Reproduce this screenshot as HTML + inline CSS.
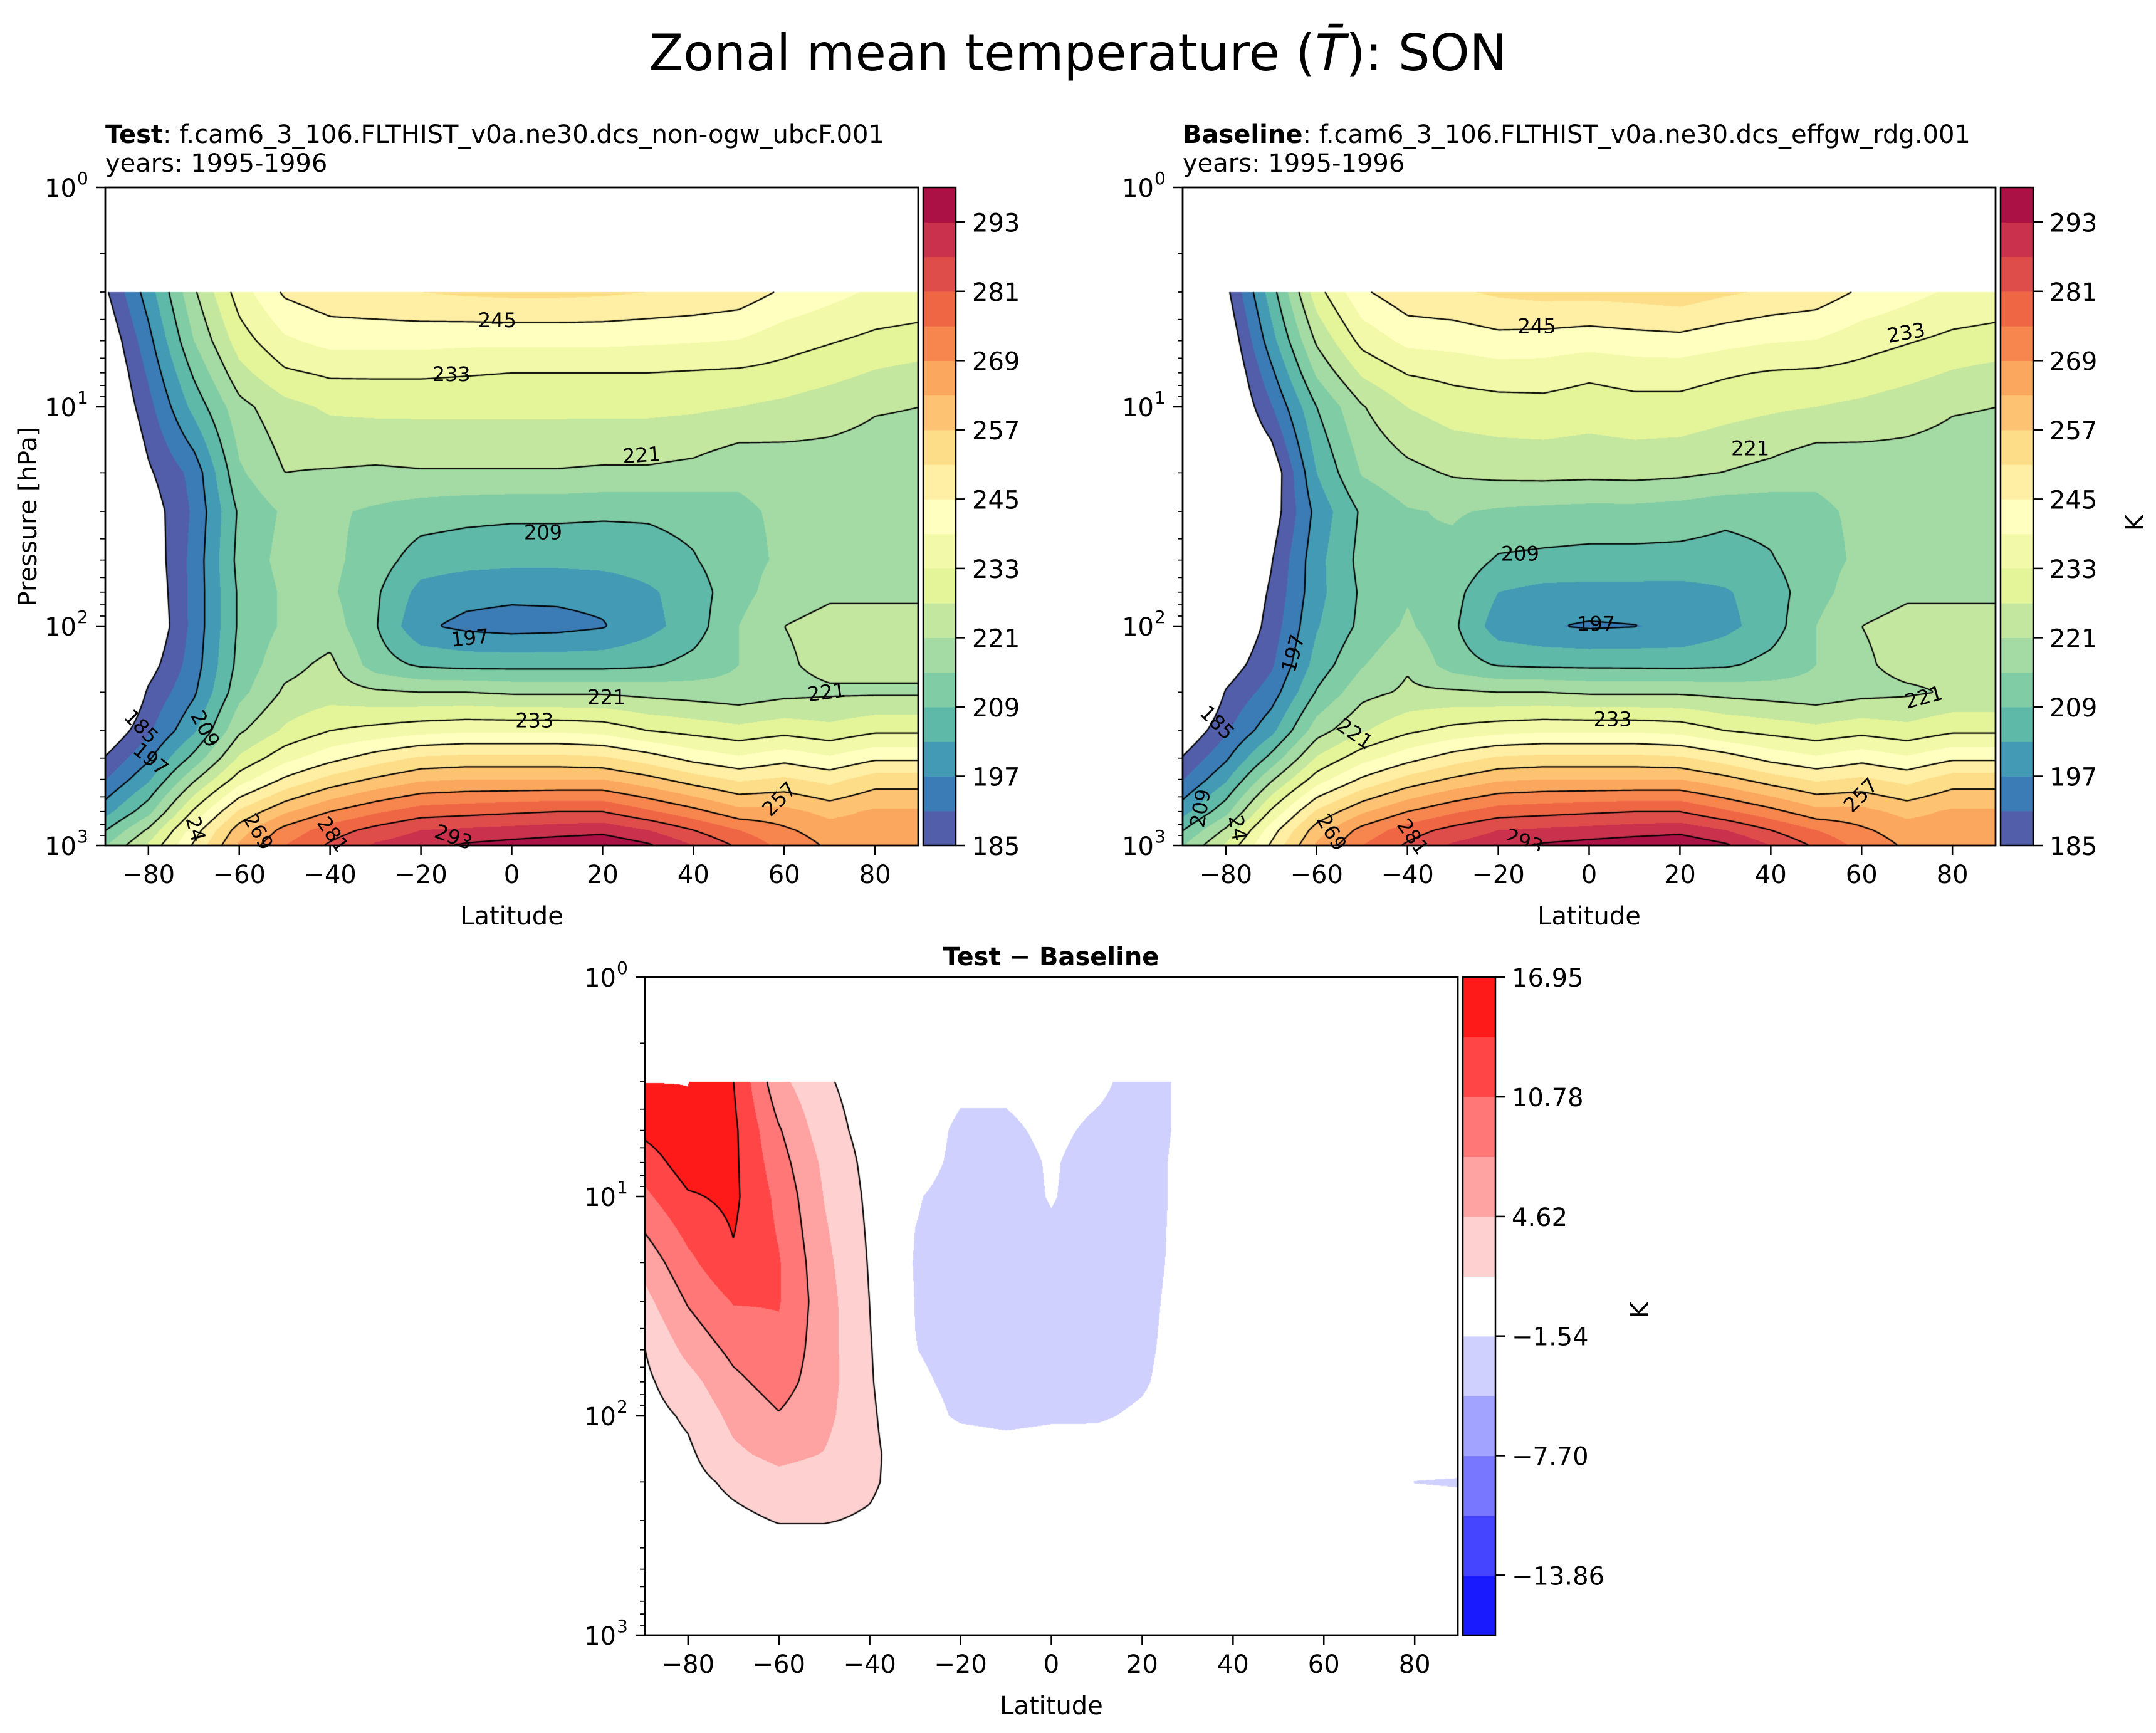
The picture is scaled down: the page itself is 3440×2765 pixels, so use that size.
<!DOCTYPE html>
<html><head><meta charset="utf-8"><title>Zonal mean temperature SON</title>
<style>
html,body{margin:0;padding:0;background:#fff;}
#fig{position:relative;width:3440px;height:2765px;overflow:hidden;background:#fff;font-family:"DejaVu Sans","Liberation Sans",sans-serif;}
canvas{position:absolute;}
svg{position:absolute;left:0;top:0;}
</style></head>
<body>
<div id="fig">
<canvas id="c1"></canvas>
<canvas id="c2"></canvas>
<canvas id="c3"></canvas>
<svg id="ov" width="3440" height="2765">
<text x="1720" y="112" text-anchor="middle" font-size="80">Zonal mean temperature (<tspan font-style="italic">T̄</tspan>): SON</text>
<text x="168" y="228" font-size="40"><tspan font-weight="bold">Test</tspan><tspan>: f.cam6_3_106.FLTHIST_v0a.ne30.dcs_non-ogw_ubcF.001</tspan></text>
<text x="168" y="274" font-size="40">years: 1995-1996</text>
<text x="1887" y="228" font-size="40"><tspan font-weight="bold">Baseline</tspan><tspan>: f.cam6_3_106.FLTHIST_v0a.ne30.dcs_effgw_rdg.001</tspan></text>
<text x="1887" y="274" font-size="40">years: 1995-1996</text>
<text x="1677" y="1540" text-anchor="middle" font-size="40" font-weight="bold">Test − Baseline</text>
<text x="0" y="0" transform="translate(58,824) rotate(-90)" text-anchor="middle" font-size="40">Pressure [hPa]</text>
<text x="0" y="0" transform="translate(3420,834) rotate(-90)" text-anchor="middle" font-size="40">K</text>
<text x="0" y="0" transform="translate(2630,2090) rotate(-90)" text-anchor="middle" font-size="40">K</text>
</svg>
</div>
<script>
// ---- data ----
const LATS = [-90,-80,-70,-60,-50,-40,-30,-20,-10,0,10,20,30,40,50,60,70,80,90];
const PLEVS = [3,5,7,10,20,30,50,70,100,150,200,300,400,500,700,850,1000];
const testT = [
 [183,200,220,236,246,249,250,251,252,252.5,252.5,252,251,250,248.5,244,241,238,237],
 [178,195,215,230,238,241,241,241,240.5,240.5,240.5,240.5,240,239.5,238.8,235.5,233.5,231.5,230.5],
 [176,192,210,225,232,234,234,234,233.5,233,233,233,233,232.5,232,231,229,226.5,225],
 [175,189,205,219,225,228,228.5,228.5,228.5,228.5,228.5,228.5,228.5,228,227,225.6,223.5,221.5,221],
 [170,184,193,214,221,220.5,220,220.5,220.5,220.5,220.5,220,220,219,216,217,218,218,218],
 [166,181,192,210,216,216,214,212,211,210.5,210.5,210,210,211,214,216,217,218,218],
 [162,180,193,211,217,216.5,212,206,205,204.5,204.5,205,206,208.5,213,216,217,218,218],
 [160,179,193,210,216,216,210,201,199,198.5,198.5,199,202,206,213,218,220,220,220],
 [160,178,193,210,216,218,209.5,198,195.5,194.5,195,196.5,201,206,215,221,223,223,223],
 [163,182,194,211,219,222.5,212,208,207,207,207,207,208,211,215,220,223,223,223],
 [168,186,196,213,222,224,222,221,221,220,220,220,219,218,217,219,220,220,220],
 [178,190,202,220,228,233,235,237,238,238,238,237,233,231,229,231,229,232,232],
 [185,196,211,228,237,243,248,252,253,253,253,252,248,243,240,243,240,244,244],
 [190,202,220,236,246,253,258,262,263,263,263,263,259,254,250,252,249,254,254],
 [200,213,234,252,262,269,274,278,279,280,281,281,276,271,265,265,261,264,264],
 [208,222,242,260,271,278,283,287,288,289,290,291,287,281,275,270,266,266,266],
 [214,228,246,264,275,282,288,291,294,295.5,297,298,294,287,280,273,268,267,267]
];
const diffT = [
 [17,17,13.9,5.5,2,0,0,-1,-1,-0.5,-1,-2.5,-1,0,0,0,0,0,0],
 [14.5,16.5,14.5,8,3,0.3,-0.3,-2,-2,-1,-2,-2.5,-1,0,0,0,0,0,0],
 [12,15.5,14.5,9,4,0.6,-0.8,-2,-2.5,-1.3,-2.5,-2.5,-0.8,0,0,0,0,0,0],
 [10,13.5,14.5,10,4.5,0.9,-1.4,-2.2,-2.5,-1.4,-2.5,-2.5,-0.8,0,0,0,0,0,0],
 [5.5,10,13.5,11,5.5,1.3,-1.7,-2.2,-2.5,-2.2,-2.5,-2.3,-0.8,0,0,0,0,0,0],
 [3.5,8,11,11,6,1.5,-1.6,-2.2,-2.5,-2.5,-2.5,-2.2,-0.6,0,0,0,0,0,0],
 [1.3,5.5,8.5,10,6,1.7,-1.5,-2.2,-2.5,-2.5,-2.5,-2,-0.5,0,0,0,0,0,0],
 [0.8,3.5,7,9,6,1.8,-1.2,-2,-2.2,-2.5,-2.5,-1.8,-0.4,0,0,0,0,0,0],
 [0.3,2,5.5,7.5,5.5,2,-0.8,-1.8,-2,-1.8,-1.8,-1.2,-0.3,0,0,0,0,0,0],
 [0,1,4,5.5,4.5,2.1,0,-0.5,-0.8,-0.6,-0.5,-0.3,0,0,0,0,0,0,0],
 [0,0.5,2.2,3.5,3,2,0,0,0,0,0,0,0,0,0,0,0,-1.6,-1.8],
 [0,0,0.8,1.7,1.7,1.2,0,0,0,0,0,0,0,0,0,0,0,0,0],
 [0,0,0,0.3,0.3,0.2,0,0,0,0,0,0,0,0,0,0,0,0,0],
 [0,0,0,0,0,0,0,0,0,0,0,0,0,0,0,0,0,0,0],
 [0,0,0,0,0,0,0,0,0,0,0,0,0,0,0,0,0,0,0],
 [0,0,0,0,0,0,0,0,0,0,0,0,0,0,0,0,0,0,0],
 [0,0,0,0,0,0,0,0,0,0,0,0,0,0,0,0,0,0,0]
];
const xTicks = [-80,-60,-40,-20,0,20,40,60,80];
const yTickExp = [0,1,2,3];
const tempTicks = [185,197,209,221,233,245,257,269,281,293];
const diffTicks = [16.95,10.78,4.62,-1.54,-7.70,-13.86];
const diffTickLabels = ["16.95","10.78","4.62","−1.54","−7.70","−13.86"];
const testLabels = [[-3.2,4.04,"245",0],[-13.3,7.1,"233",0],[28.6,16.6,"221",-4],[6.9,37.4,"209",0],[-9.2,113,"197",-6],[20.9,211,"221",0],[5,269,"233",0],[69.3,200,"221",-8],[58.9,614,"257",-45],[-81.6,287,"185",45],[-79.5,403,"197",40],[-67.5,294,"209",62],[-69.6,841,"24",75],[-55.8,864,"269",60],[-39.4,890,"281",55],[-12.8,915,"293",20]];
const baseLabels = [[-11.5,4.3,"245",0],[69.8,4.6,"233",-10],[35.5,15.5,"221",0],[-15.2,46.8,"209",0],[1.5,97.7,"197",0],[-65.2,133,"197",-75],[-81.9,275,"185",45],[-51.6,309,"221",35],[5.2,266,"233",0],[73.7,211,"221",-15],[59.8,589,"257",-45],[-85.6,676,"209",-80],[-77.4,832,"24",80],[-56.7,871,"269",60],[-38.8,912,"281",55],[-14.3,955,"293",20]];

const baseT = testT.map((r,i)=>r.map((v,j)=>v-diffT[i][j]));

// ---- geometry ----
const PLOTS = [
 {id:'c1', x:168, y:299, w:1297, h:1050, cbx:1473, grid:testT, kind:'t', labels:testLabels, nm:'test'},
 {id:'c2', x:1887, y:299, w:1297, h:1050, cbx:3192, grid:baseT, kind:'t', labels:baseLabels, nm:'baseline'},
 {id:'c3', x:1029, y:1559, w:1297, h:1050, cbx:2334, grid:diffT, kind:'d', labels:[], nm:'difference'}
];
const CBW = 52;
const LATMIN=-89.5, LATMAX=89.5;
const LOGP = PLEVS.map(p=>Math.log10(p));

const SPEC=['#5e4fa2','#3288bd','#66c2a5','#abdda4','#e6f598','#ffffbf','#fee08b','#fdae61','#f46d43','#d53e4f','#9e0142'];
function hex2rgb(h){return [parseInt(h.substr(1,2),16),parseInt(h.substr(3,2),16),parseInt(h.substr(5,2),16)];}
function spectral(t){const s=t*10;let i=Math.floor(s);if(i>=10)i=9;if(i<0)i=0;const f=s-i;const a=hex2rgb(SPEC[i]),b=hex2rgb(SPEC[i+1]);return [0,1,2].map(k=>Math.round(a[k]+(b[k]-a[k])*f));}
const T_LO=185,T_STEP=6,T_N=19;
const T_COLORS=[];for(let i=0;i<T_N;i++)T_COLORS.push(spectral((i+0.5)/T_N));
const D_LO=-16.95,D_STEP=3.0818,D_N=11;
const D_COLORS=['#1a1aff','#4545ff','#7777ff','#a2a2ff','#d0d0ff','#ffffff','#ffd0d0','#ffa2a2','#ff7777','#ff4545','#ff1a1a'].map(hex2rgb);
const T_LINES=[185,197,209,221,233,245,257,269,281,293];
const D_LINES=[-10.78,-4.62,1.54,7.70,13.86];

function sample(grid, lat, p){
  let lp=Math.log10(p); let k=0;
  while(k<LOGP.length-2 && lp>LOGP[k+1])k++;
  let t=(lp-LOGP[k])/(LOGP[k+1]-LOGP[k]); t=Math.max(0,Math.min(1,t));
  let fl=(lat-LATS[0])/10; let j=Math.floor(fl); if(j<0)j=0; if(j>LATS.length-2)j=LATS.length-2;
  let u=fl-j; u=Math.max(0,Math.min(1,u));
  const a=grid[k][j],b=grid[k][j+1],c=grid[k+1][j],d=grid[k+1][j+1];
  return (a*(1-u)+b*u)*(1-t)+(c*(1-u)+d*u)*t;
}
function latOf(P,px){return LATMIN+px/P.w*(LATMAX-LATMIN);}
function pOf(P,py){return Math.pow(10,py/P.h*3);}
function xOfLat(P,lat){return P.x+(lat-LATMIN)/(LATMAX-LATMIN)*P.w;}
function yOfP(P,p){return P.y+Math.log10(p)/3*P.h;}

function render(P){
  const cv=document.getElementById(P.id);
  cv.width=P.w; cv.height=P.h; cv.style.left=P.x+'px'; cv.style.top=P.y+'px';
  const ctx=cv.getContext('2d');
  const img=ctx.createImageData(P.w,P.h); const D=img.data;
  const y0=Math.ceil(Math.log10(3)/3*P.h);
  const lo=P.kind==='t'?T_LO:D_LO, st=P.kind==='t'?T_STEP:D_STEP, n=P.kind==='t'?T_N:D_N, cols=P.kind==='t'?T_COLORS:D_COLORS;
  for(let py=0;py<P.h;py++){
    for(let px=0;px<P.w;px++){
      const o=(py*P.w+px)*4;
      let c=[255,255,255];
      if(py>=y0){
        const v=sample(P.grid,latOf(P,px+0.5),pOf(P,py+0.5));
        const idx=Math.floor((v-lo)/st);
        if(idx>=0&&idx<n)c=cols[idx];
      }
      D[o]=c[0];D[o+1]=c[1];D[o+2]=c[2];D[o+3]=255;
    }
  }
  ctx.putImageData(img,0,0);
  const lines=P.kind==='t'?T_LINES:D_LINES;
  const step=3;
  const xs=[];for(let x=0;x<=P.w;x+=step)xs.push(x);
  const ys=[];for(let y=y0;y<=P.h;y+=step)ys.push(y);
  const V=ys.map(y=>xs.map(x=>sample(P.grid,latOf(P,x),pOf(P,y))));
  ctx.strokeStyle='#000'; ctx.lineWidth=2.2; ctx.beginPath();
  for(const L of lines){
    for(let r=0;r<ys.length-1;r++){
      for(let q=0;q<xs.length-1;q++){
        const a=V[r][q],b=V[r][q+1],c=V[r+1][q+1],d=V[r+1][q];
        const x0=xs[q],x1=xs[q+1],ya=ys[r],yb=ys[r+1];
        const pts=[];
        if((a>=L)!==(b>=L)){const t=(L-a)/(b-a);pts.push([x0+t*(x1-x0),ya]);}
        if((b>=L)!==(c>=L)){const t=(L-b)/(c-b);pts.push([x1,ya+t*(yb-ya)]);}
        if((d>=L)!==(c>=L)){const t=(L-d)/(c-d);pts.push([x0+t*(x1-x0),yb]);}
        if((a>=L)!==(d>=L)){const t=(L-a)/(d-a);pts.push([x0,ya+t*(yb-ya)]);}
        for(let m=0;m+1<pts.length;m+=2){ctx.moveTo(pts[m][0],pts[m][1]);ctx.lineTo(pts[m+1][0],pts[m+1][1]);}
      }
    }
  }
  ctx.stroke();
}

const NS='http://www.w3.org/2000/svg';
const ov=document.getElementById('ov');
function mk(tag,attrs,parent){const e=document.createElementNS(NS,tag);for(const k in attrs)e.setAttribute(k,attrs[k]);(parent||ov).appendChild(e);return e;}

function axes(P){
  const cp=mk('clipPath',{id:'clip-'+P.id});
  mk('rect',{x:P.x,y:P.y,width:P.w,height:P.h},cp);
  for(const lb of P.labels){
    const x=xOfLat(P,lb[0]), y=yOfP(P,lb[1]);
    const t=mk('text',{x:x,y:y+11,'text-anchor':'middle','font-size':32,transform:`rotate(${lb[3]} ${x} ${y})`,'clip-path':`url(#clip-${P.id})`});
    
    
    t.textContent=lb[2];
  }
  const fr=mk('rect',{x:P.x,y:P.y,width:P.w,height:P.h,fill:'none',stroke:'#000','stroke-width':2.8});
  
  
  const b=P.y+P.h;
  for(const v of xTicks){
    const x=xOfLat(P,v);
    const tk=mk('line',{x1:x,y1:b,x2:x,y2:b+15,stroke:'#000','stroke-width':2.5});
    
    
    const tl=mk('text',{x:x,y:b+60,'text-anchor':'middle','font-size':40});
    
    
    tl.textContent=(v<0?'−':'')+Math.abs(v);
  }
  const xl=mk('text',{x:P.x+P.w/2,y:b+126,'text-anchor':'middle','font-size':40});
  
  
  xl.textContent='Latitude';
  for(const e of yTickExp){
    const y=P.y+e/3*P.h;
    const tk=mk('line',{x1:P.x-15,y1:y,x2:P.x,y2:y,stroke:'#000','stroke-width':2.5});
    
    
    const tl=mk('text',{x:P.x-46,y:y+15,'text-anchor':'end','font-size':40});
    
    
    tl.textContent='10';
    const sup=mk('text',{x:P.x-45,y:y-5,'text-anchor':'start','font-size':28});
    
    
    sup.textContent=String(e);
    if(e<3){for(let m=2;m<=9;m++){
      const ym=P.y+(e+Math.log10(m))/3*P.h;
      const mt=mk('line',{x1:P.x-8,y1:ym,x2:P.x,y2:ym,stroke:'#000','stroke-width':1.8});
      
      
    }}
  }
  const cb=mk('g',{});
  
  
  if(P.kind==='t'){
    for(let i=0;i<T_N;i++){
      const y1=b-(i+1)/T_N*P.h;
      const c=T_COLORS[i];
      const r=mk('rect',{x:P.cbx,y:y1,width:CBW,height:P.h/T_N+0.6,fill:`rgb(${c[0]},${c[1]},${c[2]})`},cb);
      
      
    }
    for(const v of tempTicks){
      const y=b-(v-T_LO)/(T_STEP*T_N)*P.h;
      const tk=mk('line',{x1:P.cbx+CBW,y1:y,x2:P.cbx+CBW+15,y2:y,stroke:'#000','stroke-width':2.5},cb);
      
      
      const tl=mk('text',{x:P.cbx+CBW+26,y:y+15,'font-size':40},cb);
      
      
      tl.textContent=String(v);
    }
  } else {
    for(let i=0;i<D_N;i++){
      const y1=b-(i+1)/D_N*P.h;
      const c=D_COLORS[i];
      const r=mk('rect',{x:P.cbx,y:y1,width:CBW,height:P.h/D_N+0.6,fill:`rgb(${c[0]},${c[1]},${c[2]})`},cb);
      
      
    }
    diffTicks.forEach((v,i)=>{
      const y=b-(v-D_LO)/(D_STEP*D_N)*P.h;
      const tk=mk('line',{x1:P.cbx+CBW,y1:y,x2:P.cbx+CBW+15,y2:y,stroke:'#000','stroke-width':2.5},cb);
      
      
      const tl=mk('text',{x:P.cbx+CBW+26,y:y+15,'font-size':40},cb);
      
      
      tl.textContent=diffTickLabels[i];
    });
  }
  const cf=mk('rect',{x:P.cbx,y:P.y,width:CBW,height:P.h,fill:'none',stroke:'#000','stroke-width':2.5},cb);
  
  
}
for(const P of PLOTS){render(P);axes(P);}
</script>
</body></html>
